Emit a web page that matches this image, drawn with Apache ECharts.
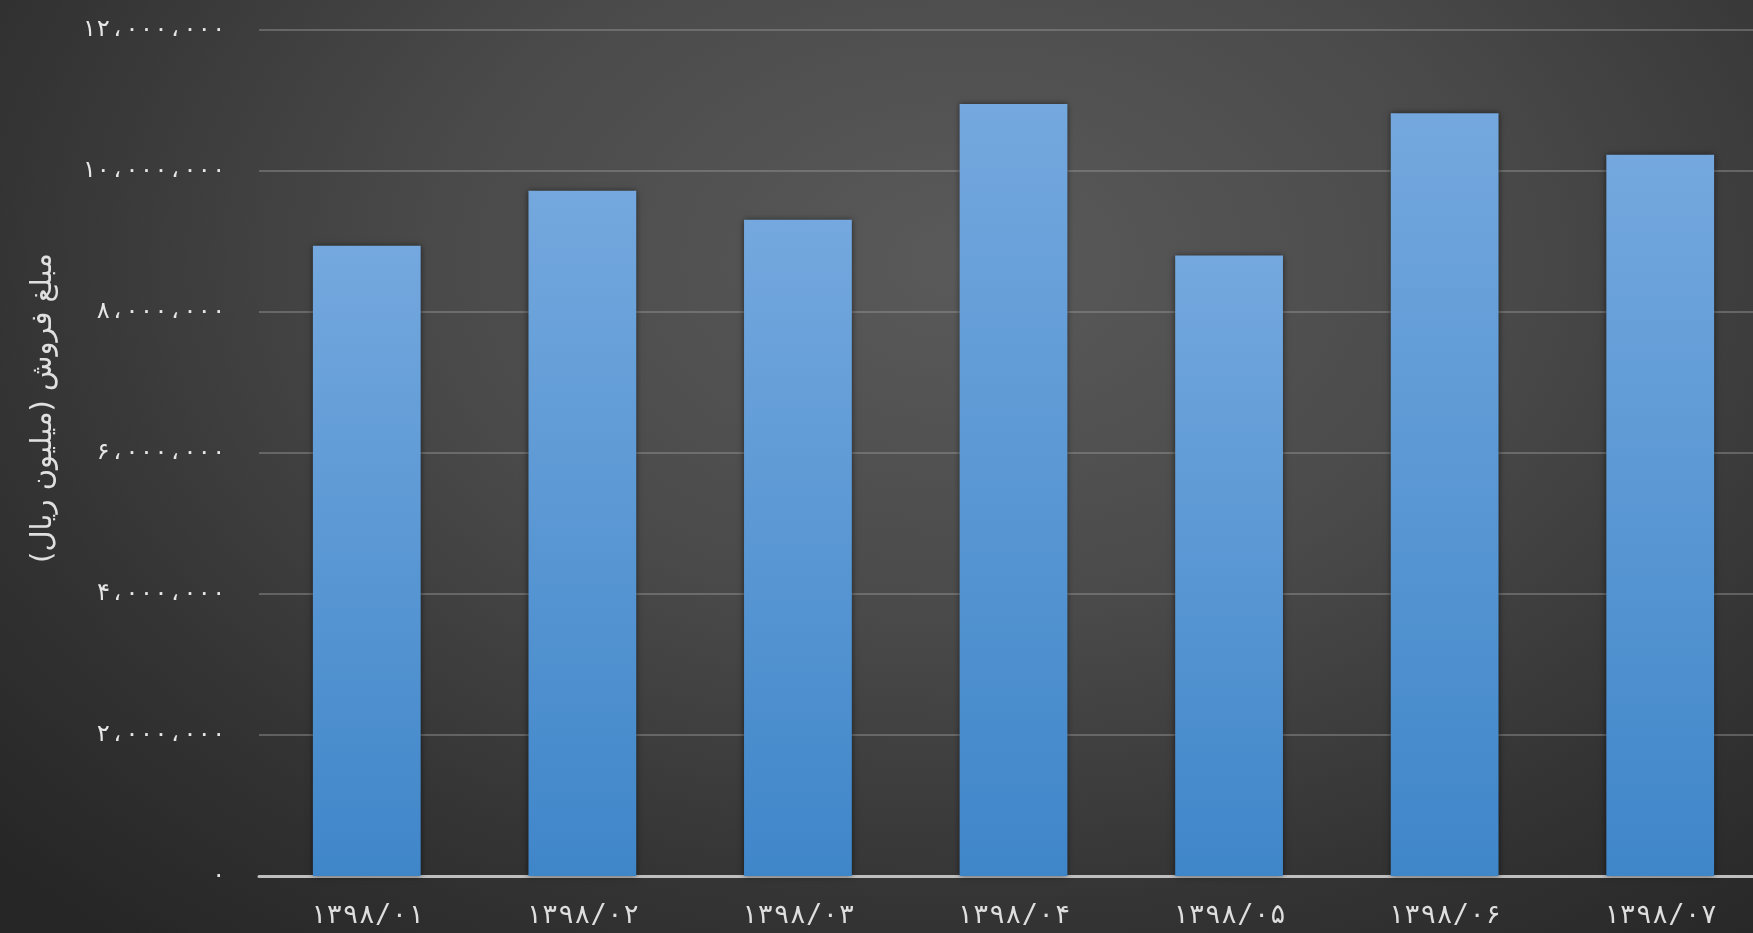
<!DOCTYPE html>
<html>
<head>
<meta charset="utf-8">
<script src="https://cdn.jsdelivr.net/npm/echarts@6/dist/echarts.min.js"></script>
<style>
  html, body { margin: 0; padding: 0; width: 1753px; height: 933px; overflow: hidden; }
  body { background: radial-gradient(ellipse 75% 95% at 55% 28%, #5a5a5a 0%, #4a4a4a 40%, #333333 75%, #262626 100%); }
  #chart { width: 1768px; height: 933px; }
</style>
</head>
<body>
<div id="chart"></div>
<script>
const categories = ['۱۳۹۸/۰۱', '۱۳۹۸/۰۲', '۱۳۹۸/۰۳', '۱۳۹۸/۰۴', '۱۳۹۸/۰۵', '۱۳۹۸/۰۶', '۱۳۹۸/۰۷'];
const salesValues = [8940000, 9720000, 9310000, 10950000, 8800000, 10820000, 10230000];
const yTickValues = [0, 2000000, 4000000, 6000000, 8000000, 10000000, 12000000];
const yTickLabels = ['۰', '۲،۰۰۰،۰۰۰', '۴،۰۰۰،۰۰۰', '۶،۰۰۰،۰۰۰', '۸،۰۰۰،۰۰۰', '۱۰،۰۰۰،۰۰۰', '۱۲،۰۰۰،۰۰۰'];
const yAxisTitle = 'مبلغ فروش (میلیون ریال)';

const chart = echarts.init(document.getElementById('chart'), null, { renderer: 'canvas' });
chart.setOption({
  backgroundColor: 'transparent',
  animation: false,
  grid: { left: 259, right: 0, top: 30, bottom: 57, containLabel: false },
  graphic: [{
    type: 'text',
    x: 43, y: 408,
    rotation: Math.PI / 2,
    style: {
      text: yAxisTitle,
      fill: '#e0e0e0',
      font: '29px "DejaVu Sans"',
      align: 'center',
      verticalAlign: 'middle'
    }
  }],
  xAxis: {
    type: 'category',
    data: categories,
    axisLine: { show: true, lineStyle: { color: '#bfbfbf', width: 3 } },
    axisTick: { show: false },
    axisLabel: { color: '#dedede', fontSize: 27, fontFamily: '"DejaVu Sans Mono", "DejaVu Sans"', margin: 26 },
    splitLine: { show: false }
  },
  yAxis: {
    type: 'value',
    min: 0, max: 12000000, interval: 2000000,
    axisLine: { show: false },
    axisTick: { show: false },
    axisLabel: {
      color: '#e6e6e6', fontSize: 24, fontFamily: '"DejaVu Sans Mono", "DejaVu Sans"', margin: 33,
      formatter: function (v) { const i = yTickValues.indexOf(v); return i >= 0 ? yTickLabels[i] : ''; }
    },
    splitLine: { show: true, lineStyle: { color: 'rgba(150,150,150,0.45)', width: 2 } }
  },
  series: [{
    type: 'bar',
    data: salesValues,
    barCategoryGap: '50%',
    itemStyle: {
      color: new echarts.graphic.LinearGradient(0, 0, 0, 1, [
        { offset: 0, color: '#74a8de' },
        { offset: 1, color: '#3f86c9' }
      ]),
      shadowColor: 'rgba(0,0,0,0.55)',
      shadowBlur: 6
    }
  }]
});
</script>
</body>
</html>
